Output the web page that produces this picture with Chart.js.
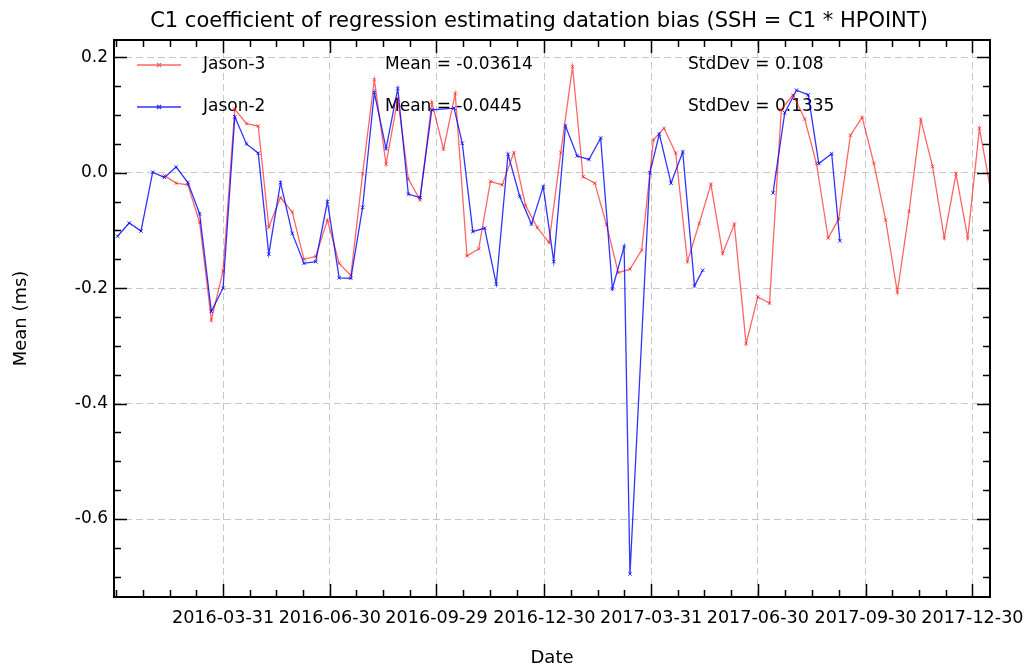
<!DOCTYPE html>
<html>
<head>
<meta charset="utf-8">
<script src="https://cdn.jsdelivr.net/npm/chart.js@4.4.1/dist/chart.umd.min.js"></script>
<style>
  html, body { margin: 0; padding: 0; background: #fff; }
</style>
</head>
<body>
<canvas id="datationChart" width="1024" height="670"></canvas>
<script>
// Jason-3 (red)
const jason3Dates = [
    '2016-02-10', '2016-02-20', '2016-03-01', '2016-03-11', '2016-03-21', '2016-03-31',
    '2016-04-10', '2016-04-20', '2016-04-30', '2016-05-09', '2016-05-19', '2016-05-29',
    '2016-06-08', '2016-06-18', '2016-06-28', '2016-07-08', '2016-07-18', '2016-07-28',
    '2016-08-07', '2016-08-17', '2016-08-27', '2016-09-05', '2016-09-15', '2016-09-25',
    '2016-10-05', '2016-10-15', '2016-10-25', '2016-11-04', '2016-11-14', '2016-11-24',
    '2016-12-04', '2016-12-14', '2016-12-24', '2017-01-03', '2017-01-13', '2017-01-23',
    '2017-02-01', '2017-02-11', '2017-02-21', '2017-03-03', '2017-03-13', '2017-03-23',
    '2017-04-02', '2017-04-11', '2017-04-21', '2017-05-01', '2017-05-11', '2017-05-21',
    '2017-05-31', '2017-06-10', '2017-06-20', '2017-06-30', '2017-07-10', '2017-07-20',
    '2017-07-30', '2017-08-09', '2017-08-19', '2017-08-29', '2017-09-07', '2017-09-17',
    '2017-09-27', '2017-10-07', '2017-10-17', '2017-10-27', '2017-11-06', '2017-11-16',
    '2017-11-26', '2017-12-06', '2017-12-16', '2017-12-26', '2018-01-05', '2018-01-15'
];
const jason3Values = [
    -0.005, -0.018, -0.021, -0.086, -0.255, -0.170,
    0.110, 0.085, 0.081, -0.094, -0.043, -0.068,
    -0.150, -0.145, -0.082, -0.157, -0.178, -0.002,
    0.161, 0.015, 0.128, -0.011, -0.047, 0.122,
    0.041, 0.137, -0.144, -0.132, -0.015, -0.021,
    0.035, -0.057, -0.095, -0.121, 0.035, 0.184,
    -0.007, -0.018, -0.090, -0.173, -0.167, -0.134,
    0.057, 0.077, 0.034, -0.154, -0.088, -0.020,
    -0.140, -0.089, -0.296, -0.215, -0.226, 0.109,
    0.135, 0.093, 0.016, -0.113, -0.080, 0.065,
    0.096, 0.016, -0.082, -0.207, -0.067, 0.092,
    0.011, -0.113, -0.002, -0.113, 0.077, -0.035
];

// Jason-2 (blue), null = no data
const jason2Dates = [
    '2016-01-01', '2016-01-11', '2016-01-21', '2016-01-31', '2016-02-10', '2016-02-20',
    '2016-03-01', '2016-03-11', '2016-03-21', '2016-03-31', '2016-04-10', '2016-04-20',
    '2016-04-30', '2016-05-09', '2016-05-19', '2016-05-29', '2016-06-08', '2016-06-18',
    '2016-06-28', '2016-07-08', '2016-07-18', '2016-07-28', '2016-08-07', '2016-08-17',
    '2016-08-27', '2016-09-05', '2016-09-15', '2016-09-25', '2016-10-14', '2016-10-21',
    '2016-10-30', '2016-11-09', '2016-11-19', '2016-11-29', '2016-12-09', '2016-12-19',
    '2016-12-29', '2017-01-07', '2017-01-17', '2017-01-27', '2017-02-06', '2017-02-16',
    '2017-02-26', '2017-03-08', '2017-03-13', '2017-03-30', '2017-04-07', '2017-04-17',
    '2017-04-27', '2017-05-07', '2017-05-14', '2017-06-13', '2017-07-13', '2017-07-23',
    '2017-08-02', '2017-08-12', '2017-08-21', '2017-09-01', '2017-09-08'
];
const jason2Values = [
    -0.110, -0.087, -0.101, 0.001, -0.008, 0.010,
    -0.017, -0.071, -0.240, -0.200, 0.097, 0.050,
    0.034, -0.141, -0.017, -0.105, -0.157, -0.154,
    -0.050, -0.182, -0.183, -0.060, 0.139, 0.042,
    0.146, -0.037, -0.043, 0.109, 0.112, 0.051,
    -0.102, -0.096, -0.193, 0.032, -0.041, -0.089,
    -0.024, -0.154, 0.081, 0.029, 0.023, 0.060,
    -0.201, -0.128, -0.695, 0.000, 0.067, -0.018,
    0.036, -0.196, -0.169, null, -0.035, 0.104,
    0.143, 0.135, 0.016, 0.033, -0.118
];

const seriesNames = ['Jason-3', 'Jason-2'];
const seriesMeans = ['Mean = -0.03614', 'Mean = -0.0445'];
const seriesStdDevs = ['StdDev = 0.108', 'StdDev = 0.1335'];
const seriesColors = ['rgba(255,0,0,0.6)', 'rgba(0,0,255,0.8)'];

const xTickLabels = ['2016-03-31', '2016-06-30', '2016-09-29', '2016-12-30',
                     '2017-03-31', '2017-06-30', '2017-09-30', '2017-12-30'];
const xRange = ['2015-12-29', '2018-01-14'];
const yTickValues = [0.2, 0.0, -0.2, -0.4, -0.6];
const yTickLabels = ['0.2', '0.0', '-0.2', '-0.4', '-0.6'];

const titleText = 'C1 coefficient of regression estimating datation bias (SSH = C1 * HPOINT)';

const DAY0 = Date.UTC(2016, 0, 1);
function toDay(s) {
    const [y, m, d] = s.split('-').map(Number);
    return (Date.UTC(y, m - 1, d) - DAY0) / 86400000;
}

const majorDays = xTickLabels.map(toDay);
const xMin = toDay(xRange[0]);
const xMax = toDay(xRange[1]);

// minor ticks: 3 between each quarter
function buildXTicks() {
    const out = [];
    const step = (majorDays[1] - majorDays[0]) / 4;
    for (let v = majorDays[0] - step; v >= xMin; v -= step) out.push({ value: v, major: false });
    majorDays.forEach((m, i) => {
        out.push({ value: m, major: true });
        if (i < majorDays.length - 1) {
            const s = (majorDays[i + 1] - m) / 4;
            for (let k = 1; k < 4; k++) out.push({ value: m + s * k, major: false });
        }
    });
    return out.sort((a, b) => a.value - b.value);
}

function buildYTicks() {
    const out = [];
    for (let k = -14; k <= 4; k++) {
        const v = Math.round(k * 5) / 100;
        const major = yTickValues.some(t => Math.abs(t - v) < 1e-9);
        out.push({ value: v, major: major });
    }
    return out;
}

const FONT = '"DejaVu Sans", "Liberation Sans", sans-serif';

const decorations = {
    id: 'decorations',
    beforeDatasetsDraw(chart) {
        const ctx = chart.ctx;
        ctx.save();
        // title
        ctx.fillStyle = '#000';
        ctx.font = '21px ' + FONT;
        ctx.textAlign = 'center';
        ctx.textBaseline = 'middle';
        ctx.fillText(titleText, 539, 22);
        // legend rows
        ctx.font = '17px ' + FONT;
        ctx.textAlign = 'left';
        const rows = [65, 107];
        rows.forEach((ry, i) => {
            ctx.strokeStyle = seriesColors[i];
            ctx.lineWidth = 1.3;
            ctx.beginPath();
            ctx.moveTo(137, ry);
            ctx.lineTo(181, ry);
            ctx.moveTo(157, ry - 2); ctx.lineTo(161, ry + 2);
            ctx.moveTo(157, ry + 2); ctx.lineTo(161, ry - 2);
            ctx.stroke();
            ctx.fillStyle = '#000';
            ctx.fillText(seriesNames[i], 203, ry);
            ctx.fillText(seriesMeans[i], 385, ry);
            ctx.fillText(seriesStdDevs[i], 688, ry);
        });
        ctx.restore();
    },
    afterDraw(chart) {
        const ctx = chart.ctx;
        const a = chart.chartArea;
        const { x, y } = chart.scales;
        ctx.save();
        ctx.strokeStyle = '#000';
        ctx.lineWidth = 1.5;
        ctx.beginPath();
        x.ticks.forEach(t => {
            const px = Math.round(x.getPixelForValue(t.value)) + 0.5;
            const len = t.major ? 13 : 7;
            ctx.moveTo(px, a.bottom); ctx.lineTo(px, a.bottom - len);
            ctx.moveTo(px, a.top); ctx.lineTo(px, a.top + len);
        });
        y.ticks.forEach(t => {
            const py = Math.round(y.getPixelForValue(t.value)) + 0.5;
            const len = t.major ? 13 : 7;
            ctx.moveTo(a.left, py); ctx.lineTo(a.left + len, py);
            ctx.moveTo(a.right, py); ctx.lineTo(a.right - len, py);
        });
        ctx.stroke();
        ctx.lineWidth = 2;
        ctx.strokeRect(a.left, a.top, a.right - a.left, a.bottom - a.top);
        ctx.restore();
    }
};

function series(dates, values) {
    return dates.map((d, i) => ({ x: toDay(d), y: values[i] }));
}

const gridColor = c => (c.tick && c.tick.major ? '#c8c8c8' : 'rgba(0,0,0,0)');

new Chart(document.getElementById('datationChart'), {
    type: 'line',
    data: {
        datasets: [
            {
                label: seriesNames[0],
                data: series(jason3Dates, jason3Values),
                borderColor: seriesColors[0],
                backgroundColor: seriesColors[0],
                borderWidth: 1.3,
                pointStyle: 'crossRot',
                pointRadius: 2.5,
                pointBorderWidth: 1,
                tension: 0,
                spanGaps: false,
                order: 1
            },
            {
                label: seriesNames[1],
                data: series(jason2Dates, jason2Values),
                borderColor: seriesColors[1],
                backgroundColor: seriesColors[1],
                borderWidth: 1.3,
                pointStyle: 'crossRot',
                pointRadius: 2.5,
                pointBorderWidth: 1,
                tension: 0,
                spanGaps: false,
                order: 0
            }
        ]
    },
    options: {
        responsive: false,
        animation: false,
        events: [],
        layout: { padding: { top: 40, right: 34, left: 0, bottom: 0 } },
        plugins: {
            legend: { display: false },
            tooltip: { enabled: false },
            title: { display: false }
        },
        scales: {
            x: {
                type: 'linear',
                min: xMin,
                max: xMax,
                afterBuildTicks: s => { s.ticks = buildXTicks(); },
                afterFit: s => { s.height = 73; s.paddingLeft = 0; s.paddingRight = 0; },
                grid: { color: gridColor, lineWidth: 1, drawTicks: false },
                border: { display: false, dash: [7, 4] },
                ticks: {
                    autoSkip: false,
                    maxRotation: 0,
                    minRotation: 0,
                    padding: 11,
                    color: '#000',
                    font: { family: FONT, size: 17.6 },
                    callback: (v, i, ticks) => {
                        if (!ticks[i].major) return '';
                        const k = majorDays.indexOf(v);
                        return k >= 0 ? xTickLabels[k] : '';
                    }
                },
                title: {
                    display: true,
                    text: 'Date',
                    color: '#000',
                    font: { family: FONT, size: 18 },
                    padding: { top: 0, bottom: 1 }
                }
            },
            y: {
                min: -0.735,
                max: 0.23,
                afterBuildTicks: s => { s.ticks = buildYTicks(); },
                afterFit: s => { s.width = 114; s.paddingTop = 0; s.paddingBottom = 0; },
                grid: { color: gridColor, lineWidth: 1, drawTicks: false },
                border: { display: false, dash: [7, 4] },
                ticks: {
                    autoSkip: false,
                    padding: 6,
                    color: '#000',
                    font: { family: FONT, size: 17 },
                    callback: (v, i, ticks) => {
                        if (!ticks[i].major) return '';
                        const k = yTickValues.findIndex(t => Math.abs(t - v) < 1e-9);
                        return k >= 0 ? yTickLabels[k] : '';
                    }
                },
                title: {
                    display: true,
                    text: 'Mean (ms)',
                    color: '#000',
                    font: { family: FONT, size: 18 },
                    padding: { top: 11, bottom: 0 }
                }
            }
        }
    },
    plugins: [decorations]
});
</script>
</body>
</html>
